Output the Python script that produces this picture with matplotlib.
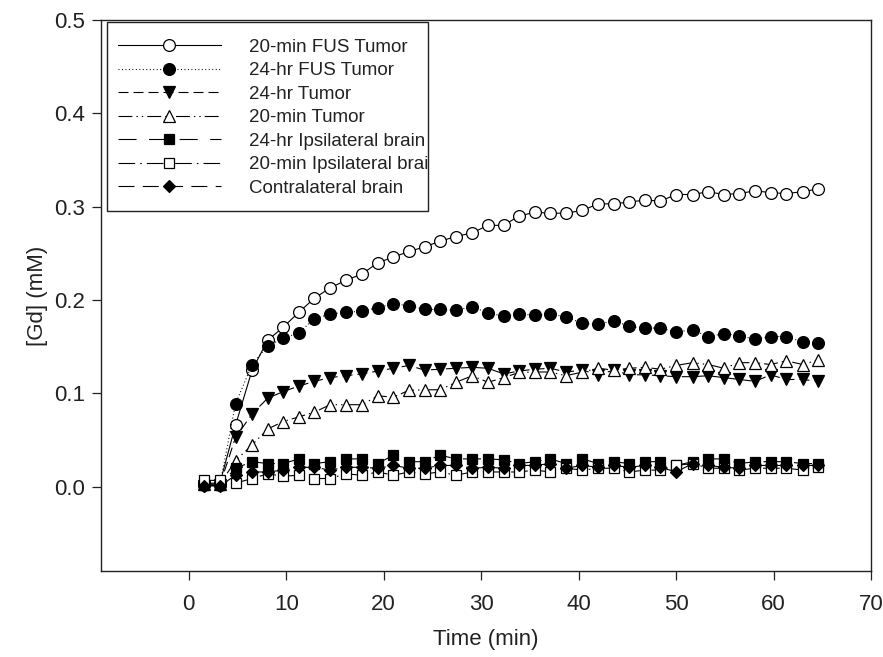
import matplotlib
matplotlib.use("Agg")
import matplotlib.pyplot as plt
from matplotlib.patches import Rectangle

plt.rcParams['font.family'] = ['Liberation Sans', 'DejaVu Sans']
plt.rcParams['lines.scale_dashes'] = False

time_min = [1.6, 3.2, 4.8, 6.5, 8.1, 9.7, 11.3, 12.9, 14.5, 16.1,
            17.8, 19.4, 21.0, 22.6, 24.2, 25.8, 27.4, 29.1, 30.7, 32.3,
            33.9, 35.5, 37.1, 38.7, 40.4, 42.0, 43.6, 45.2, 46.8, 48.4,
            50.0, 51.7, 53.3, 54.9, 56.5, 58.1, 59.7, 61.3, 63.0, 64.6]

fus_tumor_20min = [0.004, 0.004, 0.066, 0.125, 0.157, 0.171, 0.187, 0.202, 0.213, 0.221,
                   0.228, 0.240, 0.246, 0.252, 0.257, 0.263, 0.268, 0.272, 0.280, 0.280,
                   0.290, 0.294, 0.293, 0.293, 0.296, 0.303, 0.303, 0.305, 0.307, 0.306,
                   0.313, 0.313, 0.316, 0.313, 0.314, 0.317, 0.315, 0.314, 0.316, 0.319]

fus_tumor_24hr = [0.002, 0.002, 0.089, 0.131, 0.151, 0.159, 0.165, 0.180, 0.185, 0.187,
                  0.188, 0.192, 0.196, 0.194, 0.190, 0.190, 0.189, 0.193, 0.186, 0.183,
                  0.185, 0.184, 0.185, 0.182, 0.175, 0.174, 0.178, 0.172, 0.170, 0.170,
                  0.166, 0.168, 0.161, 0.164, 0.162, 0.158, 0.161, 0.161, 0.155, 0.154]

tumor_24hr = [0.001, 0.002, 0.053, 0.078, 0.095, 0.102, 0.108, 0.113, 0.117, 0.119,
              0.121, 0.124, 0.127, 0.130, 0.125, 0.126, 0.127, 0.128, 0.127, 0.121,
              0.124, 0.126, 0.127, 0.123, 0.125, 0.120, 0.125, 0.120, 0.120, 0.119,
              0.118, 0.118, 0.119, 0.117, 0.115, 0.113, 0.120, 0.115, 0.115, 0.113]

tumor_20min = [0.003, 0.003, 0.028, 0.045, 0.062, 0.070, 0.075, 0.080, 0.088, 0.088,
               0.088, 0.0975, 0.096, 0.1035, 0.104, 0.104, 0.112, 0.119, 0.112, 0.117,
               0.1225, 0.123, 0.123, 0.119, 0.123, 0.127, 0.125, 0.127, 0.128, 0.126,
               0.130, 0.133, 0.131, 0.127, 0.133, 0.133, 0.131, 0.135, 0.131, 0.136]

ipsi_24hr = [0.002, 0.002, 0.020, 0.027, 0.025, 0.025, 0.030, 0.025, 0.027, 0.030,
             0.030, 0.025, 0.034, 0.027, 0.027, 0.034, 0.030, 0.030, 0.030, 0.029,
             0.025, 0.027, 0.030, 0.025, 0.030, 0.025, 0.027, 0.025, 0.027, 0.027,
             0.023, 0.027, 0.030, 0.030, 0.025, 0.027, 0.027, 0.027, 0.025, 0.025]

ipsi_20min = [0.007, 0.007, 0.004, 0.009, 0.014, 0.0115, 0.0125, 0.009, 0.009, 0.014,
              0.0125, 0.016, 0.0125, 0.016, 0.014, 0.016, 0.0125, 0.016, 0.016, 0.016,
              0.016, 0.018, 0.016, 0.020, 0.018, 0.020, 0.020, 0.016, 0.018, 0.018,
              0.023, 0.025, 0.020, 0.020, 0.018, 0.020, 0.020, 0.020, 0.018, 0.021]

contra = [0.001, 0.001, 0.0125, 0.016, 0.016, 0.018, 0.021, 0.021, 0.018, 0.021,
          0.021, 0.020, 0.023, 0.020, 0.020, 0.023, 0.023, 0.020, 0.021, 0.020,
          0.023, 0.023, 0.025, 0.020, 0.023, 0.021, 0.023, 0.021, 0.023, 0.021,
          0.016, 0.025, 0.023, 0.021, 0.020, 0.023, 0.023, 0.023, 0.023, 0.023]

labels = ["20-min FUS Tumor", "24-hr FUS Tumor", "24-hr Tumor", "20-min Tumor",
          "24-hr Ipsilateral brain", "20-min Ipsilateral brain", "Contralateral brain"]
series = [fus_tumor_20min, fus_tumor_24hr, tumor_24hr, tumor_20min,
          ipsi_24hr, ipsi_20min, contra]
styles = [
    dict(marker='o', mfc='white', ms=8.5, ls='-'),
    dict(marker='o', mfc='black', ms=8.5, ls=(0, (0.7, 1.8))),
    dict(marker='v', mfc='black', ms=9, ls=(0, (7.2, 3.6))),
    dict(marker='^', mfc='white', ms=9, ls=(0, (10, 2.9, 1, 2.9, 1, 2.9))),
    dict(marker='s', mfc='black', ms=7.5, ls=(0, (13, 9))),
    dict(marker='s', mfc='white', ms=7.5, ls=(0, (12, 3.6, 1.2, 3.6))),
    dict(marker='D', mfc='black', ms=6.5, ls=(0, (11.5, 6))),
]

INK = '#222222'
fig = plt.figure(figsize=(8.83, 6.57), dpi=100)
ax = fig.add_axes([101/883, 1 - 571/657, 770/883, (571 - 19.8)/657])

for lab, ys, st in zip(labels, series, styles):
    ax.plot(time_min, ys, color='black', lw=0.8, marker=st['marker'],
            mfc=st['mfc'], mec='black', mew=0.9, ms=st['ms'],
            linestyle=st['ls'], label=lab)

ax.set_xlim(-9, 70)
ax.set_ylim(-0.09, 0.5)
ax.set_xticks([0, 10, 20, 30, 40, 50, 60, 70])
ax.set_yticks([0.0, 0.1, 0.2, 0.3, 0.4, 0.5])
ax.set_yticklabels(['0.0', '0.1', '0.2', '0.3', '0.4', '0.5'])
ax.tick_params(direction='out', length=6.5, width=0.9, labelsize=16,
               top=False, right=False, colors=INK)
ax.tick_params(axis='x', pad=10)
ax.tick_params(axis='y', pad=5)
for s in ax.spines.values():
    s.set_linewidth(1.0)
    s.set_color(INK)

ax.set_xlabel("Time (min)", fontsize=16, labelpad=10, color=INK)
ax.set_ylabel("[Gd] (mM)", fontsize=16, labelpad=4, color=INK)

# legend frame (fixed size box, text overflowing is clipped as in the original)
frame = Rectangle((6/770, 1 - 191.2/551.2), 321/770, 189/551.2,
                  transform=ax.transAxes, facecolor='none', edgecolor=INK,
                  linewidth=1.0, zorder=5)
ax.add_patch(frame)

leg = ax.legend(loc='upper left', bbox_to_anchor=(0.0, 1 - 2.2/551.2),
                fontsize=13.5, frameon=False, numpoints=1,
                handlelength=5.5, handletextpad=1.5, labelspacing=0.34,
                borderpad=0.9, borderaxespad=0.0)
for t in leg.get_texts():
    t.set_color(INK)
    t.set_clip_path(frame)
    t.set_clip_on(True)

fig.savefig("out.png", dpi=100)
